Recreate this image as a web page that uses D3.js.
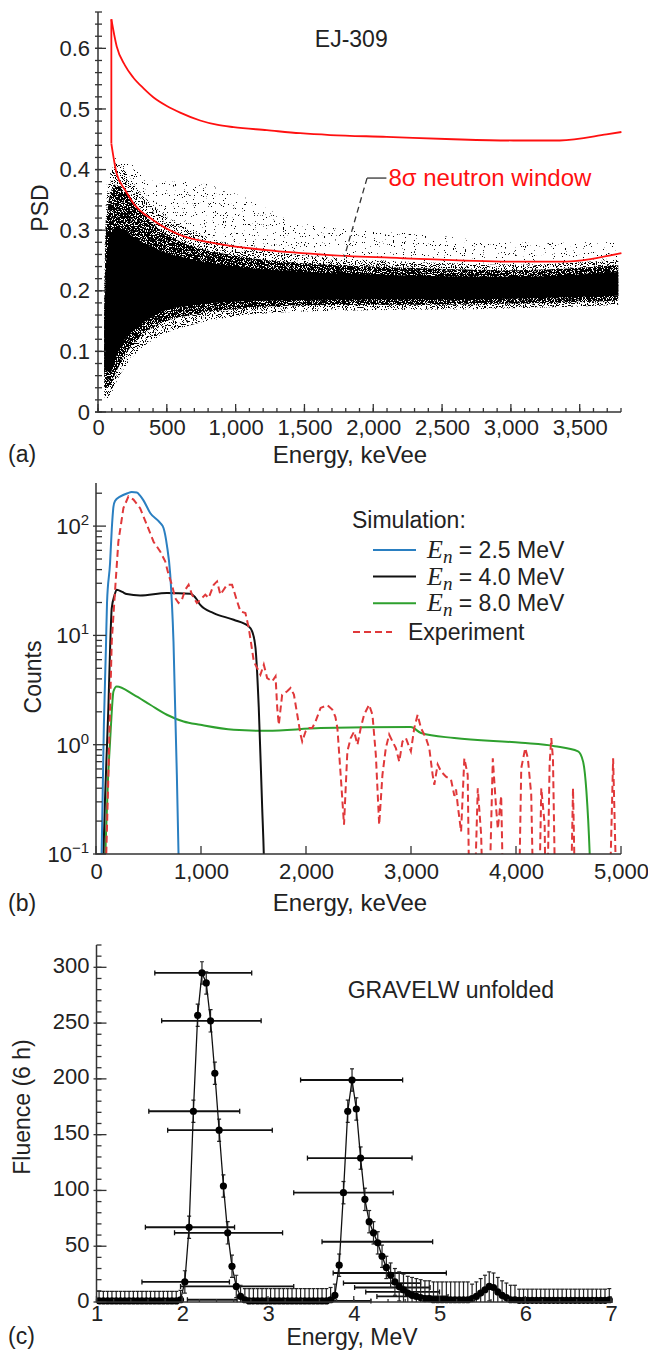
<!DOCTYPE html>
<html>
<head>
<meta charset="utf-8">
<script src="https://cdnjs.cloudflare.com/ajax/libs/d3/7.8.5/d3.min.js"></script>
<style>
body { margin: 0; background: #fff; }
text { font-family: "Liberation Sans", Arial, sans-serif; fill: #222; }
</style>
</head>
<body>
<div id="chart"></div>
<script>
// ---------- panel (a): PSD vs energy, EJ-309 ----------
// the point cloud is described by its envelopes
var psdEnergy = [45, 60, 90, 130, 190, 280, 430, 670, 1000, 1500, 2000, 2500, 3000, 3500, 3780];
var coreHi  = [0.12, 0.25, 0.29, 0.305, 0.30, 0.285, 0.268, 0.252, 0.24, 0.231, 0.227, 0.224, 0.223, 0.227, 0.231];
var coreLo  = [0.06, 0.07, 0.065, 0.09, 0.118, 0.138, 0.162, 0.176, 0.182, 0.185, 0.186, 0.186, 0.187, 0.19, 0.192];
var midHi   = [0.17, 0.31, 0.36, 0.375, 0.365, 0.34, 0.305, 0.275, 0.258, 0.245, 0.24, 0.236, 0.234, 0.238, 0.242];
var midLo   = [0.04, 0.04, 0.045, 0.065, 0.092, 0.118, 0.143, 0.16, 0.17, 0.176, 0.177, 0.177, 0.179, 0.181, 0.184];
var outerHi = [0.2, 0.34, 0.39, 0.41, 0.40, 0.37, 0.335, 0.30, 0.275, 0.258, 0.251, 0.246, 0.243, 0.247, 0.252];
var outerLo = [0.025, 0.022, 0.028, 0.048, 0.072, 0.098, 0.123, 0.143, 0.158, 0.166, 0.168, 0.169, 0.171, 0.174, 0.177];
var haloHi  = [0.22, 0.36, 0.41, 0.42, 0.42, 0.40, 0.38, 0.38, 0.36, 0.31, 0.30, 0.29, 0.28, 0.28, 0.28];

// 8 sigma neutron window
var winUpE = [97, 136, 196, 256, 331, 404, 500, 597, 742, 862, 985, 1227, 1469, 1687, 2097, 2582, 3018, 3355, 3694, 3803];
var winUpV = [0.648, 0.603, 0.572, 0.552, 0.534, 0.519, 0.505, 0.494, 0.481, 0.474, 0.470, 0.465, 0.460, 0.457, 0.454, 0.450, 0.448, 0.448, 0.458, 0.462];
var winLoE = [97, 136, 198, 258, 404, 597, 862, 1227, 1687, 2194, 3018, 3355, 3803];
var winLoV = [0.443, 0.393, 0.366, 0.344, 0.316, 0.292, 0.278, 0.267, 0.259, 0.254, 0.248, 0.248, 0.262];

var aXTicks = [0, 500, 1000, 1500, 2000, 2500, 3000, 3500];
var aYTicks = [0, 0.1, 0.2, 0.3, 0.4, 0.5, 0.6];

// ---------- panel (b): spectra ----------
var blueE = [48, 75, 95, 105, 134, 150, 166, 181, 229, 300, 340, 389, 420, 452, 516, 611, 643, 675, 707, 738, 770, 786, 800];
var blueC = [0.05, 1.5, 8, 20, 46, 93, 150, 170, 186, 200, 205, 203, 190, 172, 132, 107, 96, 67, 36, 8.8, 0.53, 0.1, 0.02];
var blackE = [62, 85, 105, 118, 135, 150, 175, 197, 250, 293, 420, 675, 898, 962, 993, 1120, 1311, 1455, 1487, 1519, 1550, 1583, 1598, 1610];
var blackC = [0.05, 0.3, 1.0, 2.2, 8, 17.8, 23, 26.2, 25, 23.9, 23.2, 24.4, 24, 21.2, 19, 16, 13.9, 12.1, 10.9, 7.7, 2.2, 0.26, 0.1, 0.03];
var greenE = [80, 95, 115, 134, 150, 166, 197, 357, 516, 675, 834, 993, 1311, 1630, 2139, 2999, 3095, 3413, 4050, 4368, 4591, 4639, 4671, 4702, 4720];
var greenC = [0.05, 0.15, 0.5, 1.07, 2.0, 3.07, 3.41, 2.87, 2.32, 1.88, 1.63, 1.52, 1.37, 1.34, 1.42, 1.45, 1.28, 1.15, 1.04, 0.97, 0.87, 0.7, 0.37, 0.1, 0.03];
var expE = [95, 118, 150, 181, 213, 261, 309, 357, 420, 484, 548, 611, 659, 691, 723, 754, 786, 818, 850, 882,
            914, 961, 993, 1041, 1073, 1121, 1153, 1184, 1248, 1296, 1344, 1375, 1423, 1455, 1503, 1535, 1566, 1598, 1630, 1678,
            1710, 1726, 1741, 1773, 1821, 1853, 1885, 1917, 1948, 1964, 1996, 2028, 2060, 2092, 2139, 2203, 2250, 2280, 2299, 2330,
            2362, 2394, 2426, 2458, 2490, 2521, 2553, 2601, 2633, 2665, 2697, 2728, 2760, 2792, 2824, 2856, 2888, 2919, 2951, 2999,
            3031, 3063, 3095, 3142, 3174, 3206, 3222, 3254, 3286, 3333, 3381, 3413, 3429, 3445, 3477, 3508, 3540, 3563, 3588, 3636,
            3668, 3700, 3731, 3779, 3811, 3827, 3859, 3890, 4018, 4050, 4088, 4113, 4145, 4177, 4209, 4241, 4273, 4288, 4320, 4336,
            4352, 4384, 4511, 4543, 4575, 4877, 4925, 4973];
var expC = [0.08, 0.53, 8.8, 25.3, 72, 146, 187, 175, 146, 103, 72, 58.7, 47.6, 36, 29.1, 22, 19.8, 21.2, 26.2, 29.1,
            23.6, 19.8, 21.2, 23.6, 22, 29.1, 31.2, 23.6, 29.1, 29.1, 20.5, 16.6, 16, 11.7, 5.78, 5.03, 4.37, 5.4, 4.07, 3.8,
            4.22, 2.17, 1.52, 2.87, 3.08, 3.3, 2.87, 1.88, 1.24, 1.07, 1.32, 1.42, 1.42, 1.64, 2.17, 2.3, 2.1, 1.8, 1.42, 0.53,
            0.185, 0.87, 1.15, 1.32, 1.0, 1.42, 1.88, 2.32, 1.88, 0.81, 0.185, 0.53, 0.93, 1.24, 1.07, 0.93, 0.7, 1.07, 1.15, 0.87,
            1.42, 1.88, 1.42, 1.15, 0.93, 0.53, 0.43, 0.66, 0.57, 0.51, 0.48, 0.34, 0.39, 0.28, 0.16, 0.75, 0.53, 0.01, 0.01, 0.4,
            0.15, 0.01, 0.01, 0.75, 0.26, 0.17, 0.34, 0.01, 0.01, 0.61, 0.93, 0.75, 0.35, 0.01, 0.01, 0.4, 0.185, 0.01, 0.66, 1.15,
            0.75, 0.01, 0.01, 0.4, 0.01, 0.01, 0.75, 0.01];

var bXTicks = [0, 1000, 2000, 3000, 4000, 5000];
var bYTicks = [0.1, 1, 10, 100];
var bYMinor = [0.2, 0.3, 0.4, 0.5, 0.6, 0.7, 0.8, 0.9, 2, 3, 4, 5, 6, 7, 8, 9, 20, 30, 40, 50, 60, 70, 80, 90, 200];
var legendNames = ["2.5", "4.0", "8.0"];
var legendColors = ["#2a7fc1", "#111111", "#2ea02e"];

// ---------- panel (c): GRAVELW unfolded fluence ----------
var unfEnergy = [1.03, 1.08, 1.13, 1.18, 1.23, 1.28, 1.33, 1.38, 1.43, 1.48, 1.53, 1.58, 1.63, 1.68, 1.73, 1.78, 1.83, 1.88, 1.93, 1.98,
                 2.03, 2.08, 2.13, 2.18, 2.23, 2.28, 2.33, 2.38, 2.43, 2.48, 2.53, 2.58, 2.63, 2.68, 2.73, 2.78, 2.83, 2.88, 2.93, 2.98,
                 3.03, 3.08, 3.13, 3.18, 3.23, 3.28, 3.33, 3.38, 3.43, 3.48, 3.53, 3.58, 3.63, 3.68, 3.73, 3.78, 3.83, 3.88, 3.93, 3.98,
                 4.03, 4.08, 4.13, 4.18, 4.23, 4.28, 4.33, 4.38, 4.43, 4.48, 4.53, 4.58, 4.63, 4.68, 4.73, 4.78, 4.83, 4.88, 4.93, 4.98,
                 5.03, 5.08, 5.13, 5.18, 5.23, 5.28, 5.33, 5.38, 5.43, 5.48, 5.53, 5.58, 5.63, 5.68, 5.73, 5.78, 5.83, 5.88, 5.93, 5.98,
                 6.03, 6.08, 6.13, 6.18, 6.23, 6.28, 6.33, 6.38, 6.43, 6.48, 6.53, 6.58, 6.63, 6.68, 6.73, 6.78, 6.83, 6.88, 6.93, 6.98];
var unfFluence = [1, 1, 1, 1, 1, 1, 1, 1, 1, 1, 1, 1, 1, 1, 1, 1, 1, 1, 1, 2,
                  18, 67, 171, 257, 295, 286, 252, 205, 154, 104, 62, 32, 14, 5, 2, 1, 1, 1, 1, 1,
                  1, 1, 1, 1, 1, 1, 1, 1, 1, 1, 1, 1, 1, 1, 2, 6, 33, 98, 171, 199,
                  173, 129, 92, 72, 62, 53, 41, 31, 24, 18, 14, 11, 8, 6, 5, 4, 3, 3, 2, 2,
                  2, 2, 2, 2, 2, 2, 2, 3, 5, 8, 11, 14, 13, 9, 6, 4, 2, 2, 1.5, 1.5,
                  1.5, 1.5, 1.5, 1.5, 1.5, 1.5, 1.5, 1.5, 1.5, 1.5, 1.5, 1.5, 1.5, 1.5, 1.5, 1.5, 1.5, 1.5, 1.5, 2];
var unfError = [8.5, 8.5, 8.5, 8.5, 8.5, 8.5, 8.5, 8.5, 8.5, 8.5, 8.5, 8.5, 8.5, 8.5, 8.5, 8.5, 8.5, 8.5, 8.5, 8.5,
                10, 10, 10, 10, 10, 10, 10, 10, 10, 10, 10, 10, 10, 10, 10, 11, 11, 11, 11, 11,
                11, 11, 11, 11, 11, 11, 11, 11, 11, 11, 11, 11, 11, 11, 11, 10, 10, 10, 10, 10,
                10, 10, 10, 10, 10, 10, 10, 10, 11, 12, 13, 14, 15, 16, 16, 16, 16, 16, 16, 16,
                16, 16, 16, 16, 16, 16, 16, 13, 13, 13, 13, 13, 13, 13, 13, 13, 13, 13, 10, 10,
                10, 10, 10, 10, 10, 10, 10, 10, 10, 10, 10, 10, 10, 10, 10, 10, 10, 10, 10, 10];
// horizontal (energy resolution) bars
var hbarLo = [1.68, 1.76, 1.61, 1.83, 1.57, 1.91, 1.53, 1.98, 2.06, 3.38, 3.46, 3.30, 3.63, 3.76, 3.88, 4.01, 4.14, 4.27, 3.70];
var hbarHi = [2.81, 2.92, 2.67, 3.05, 2.61, 3.17, 2.55, 3.30, 2.64, 4.57, 4.68, 4.46, 4.92, 5.08, 4.78, 4.89, 5.00, 5.10, 4.20];
var hbarFluence = [295, 252, 171, 154, 67, 62, 18, 14, 2, 199, 129, 98, 54, 26, 17, 13, 9, 5, 1];

var cXTicks = [1, 2, 3, 4, 5, 6, 7];
var cYTicks = [0, 50, 100, 150, 200, 250, 300];

// ---------------------------------------------------------------
var svg = d3.select("#chart").append("svg")
  .attr("width", 648)
  .attr("height", 1351);
var defs = svg.append("defs");

var ax = d3.scaleLinear().domain([0, 3800]).range([98, 621]);
var ay = d3.scaleLinear().domain([0, 0.66]).range([412, 12]);
var bx = d3.scaleLinear().domain([0, 5000]).range([96, 621]);
var by = d3.scaleLog().domain([0.1, 248]).range([854, 483]);
var cx = d3.scaleLinear().domain([1, 7]).range([96.5, 611]);
var cy = d3.scaleLinear().domain([0, 320]).range([1302, 945]);

function clip(id, x0, y0, x1, y1) {
  defs.append("clipPath").attr("id", id).append("rect")
    .attr("x", x0).attr("y", y0).attr("width", x1 - x0).attr("height", y1 - y0);
}
clip("clipA", 98, 0, 630, 412);
clip("clipB", 96, 470, 630, 854);
clip("clipC", 96.5, 930, 630, 1306);

// speckle filter: keeps a noisy fraction of the filled area so it reads as a point cloud
function speckle(id, thr, seed) {
  var f = defs.append("filter").attr("id", id)
    .attr("filterUnits", "userSpaceOnUse")
    .attr("x", 90).attr("y", 0).attr("width", 545).attr("height", 420)
    .attr("color-interpolation-filters", "sRGB");
  f.append("feTurbulence").attr("type", "fractalNoise").attr("baseFrequency", 0.9)
    .attr("numOctaves", 1).attr("seed", seed).attr("result", "noise");
  f.append("feColorMatrix").attr("in", "noise").attr("type", "matrix")
    .attr("values", "0 0 0 0 0  0 0 0 0 0  0 0 0 0 0  1 0 0 0 0").attr("result", "na");
  f.append("feComponentTransfer").attr("in", "na").attr("result", "mask")
    .append("feFuncA").attr("type", "linear").attr("slope", 40).attr("intercept", -40 * thr);
  f.append("feComposite").attr("in", "SourceGraphic").attr("in2", "mask").attr("operator", "in");
}
speckle("spkHalo", 0.68, 3);
speckle("spkOuter", 0.56, 5);
speckle("spkMid", 0.44, 7);

function tickLinesY(g, vals, scale, x0, a, b) {
  g.append("g").selectAll("line").data(vals).enter().append("line")
    .attr("x1", x0 + a).attr("x2", x0 + b)
    .attr("y1", function(d) { return scale(d); })
    .attr("y2", function(d) { return scale(d); })
    .style("stroke", "#333").style("stroke-width", 1.3);
}
function tickLinesX(g, vals, scale, y0, a, b) {
  g.append("g").selectAll("line").data(vals).enter().append("line")
    .attr("y1", y0 - a).attr("y2", y0 - b)
    .attr("x1", function(d) { return scale(d); })
    .attr("x2", function(d) { return scale(d); })
    .style("stroke", "#333").style("stroke-width", 1.3);
}
function frame(g, x0, yTop, x1, y0) {
  g.append("path")
    .attr("d", "M" + x0 + "," + yTop + "V" + y0 + "H" + x1)
    .style("fill", "none").style("stroke", "#333").style("stroke-width", 1.5);
}
function labelAxis(g, axis, tx, ty) {
  var s = g.append("g").attr("transform", "translate(" + tx + "," + ty + ")").call(axis);
  s.select(".domain").remove();
  s.selectAll("text").attr("font-size", 22).attr("font-family", "Liberation Sans, Arial, sans-serif").style("fill", "#222");
  return s;
}
function textAt(x, y, str, size, anchor) {
  return svg.append("text").attr("x", x).attr("y", y).attr("font-size", size)
    .attr("text-anchor", anchor || "start").text(str);
}

// ================= panel (a) =================
var ga = svg.append("g");
var cloud = ga.append("g").attr("clip-path", "url(#clipA)");
function band(hi, lo) {
  return d3.area()
    .x(function(d, i) { return ax(psdEnergy[i]); })
    .y0(function(d, i) { return ay(lo[i]); })
    .y1(function(d, i) { return ay(hi[i]); })
    .curve(d3.curveMonotoneX)(psdEnergy);
}
cloud.append("path").attr("d", band(haloHi, outerHi)).style("fill", "#000").attr("filter", "url(#spkHalo)");
cloud.append("path").attr("d", band(outerHi, outerLo)).style("fill", "#000").attr("filter", "url(#spkOuter)");
cloud.append("path").attr("d", band(midHi, midLo)).style("fill", "#000").attr("filter", "url(#spkMid)");
cloud.append("path").attr("d", band(coreHi, coreLo)).style("fill", "#000");

var winLine = d3.line()
  .x(function(d) { return ax(d[0]); })
  .y(function(d) { return ay(d[1]); })
  .curve(d3.curveMonotoneX);
var winUp = winUpE.map(function(e, i) { return [e, winUpV[i]]; });
var winLo = winLoE.map(function(e, i) { return [e, winLoV[i]]; });
ga.append("path").attr("d", winLine(winUp)).style("fill", "none").style("stroke", "#ff1010").style("stroke-width", 1.8);
ga.append("path").attr("d", winLine(winLo)).style("fill", "none").style("stroke", "#ff1010").style("stroke-width", 1.8);
ga.append("line")
  .attr("x1", ax(winUpE[0])).attr("x2", ax(winLoE[0]))
  .attr("y1", ay(winUpV[0])).attr("y2", ay(winLoV[0]))
  .style("stroke", "#ff1010").style("stroke-width", 1.8);

frame(ga, 98, 12, 621, 412);
tickLinesY(ga, d3.range(0, 0.661, 0.02), ay, 98, -3, 4);
tickLinesY(ga, aYTicks, ay, 98, -3, 8);
tickLinesX(ga, d3.range(0, 3801, 100), ax, 412, 0, 4);
tickLinesX(ga, aXTicks, ax, 412, 0, 8);
labelAxis(ga, d3.axisLeft(ay).tickValues(aYTicks).tickSize(0).tickPadding(8)
  .tickFormat(function(d) { return d === 0 ? "0" : d3.format(".1f")(d); }), 98, 0);
labelAxis(ga, d3.axisBottom(ax).tickValues(aXTicks).tickSize(0).tickPadding(7)
  .tickFormat(d3.format(",")), 0, 412);

// annotation
var noteX = ax(2110), noteY = ay(0.386);
ga.append("path")
  .attr("d", "M" + (noteX - 2) + "," + noteY + "H" + ax(1955))
  .style("stroke", "#333").style("stroke-width", 1.3).style("fill", "none");
ga.append("path")
  .attr("d", "M" + ax(1955) + "," + noteY + "L" + ax(1790) + "," + ay(0.256))
  .style("stroke", "#333").style("stroke-width", 1.3).style("stroke-dasharray", "6,4").style("fill", "none");
textAt(noteX, noteY + 8, "8σ neutron window", 24).style("fill", "#ff1010");
textAt(ax(1840), ay(0.616) + 8, "EJ-309", 23, "middle");

textAt(350, 463, "Energy, keVee", 24, "middle");
textAt(8, 462, "(a)", 23);
svg.append("text").attr("transform", "translate(48,208) rotate(-90)")
  .attr("font-size", 23).attr("text-anchor", "middle").text("PSD");

// ================= panel (b) =================
var gb = svg.append("g");
var curves = gb.append("g").attr("clip-path", "url(#clipB)");
var specLine = d3.line()
  .x(function(d) { return bx(d[0]); })
  .y(function(d) { return by(d[1]); })
  .curve(d3.curveMonotoneX);
function pairs(e, c) { return e.map(function(v, i) { return [v, c[i]]; }); }

curves.append("path").attr("d", specLine(pairs(greenE, greenC)))
  .style("fill", "none").style("stroke", legendColors[2]).style("stroke-width", 2);
curves.append("path").attr("d", specLine(pairs(blackE, blackC)))
  .style("fill", "none").style("stroke", legendColors[1]).style("stroke-width", 2);
curves.append("path").attr("d", specLine(pairs(blueE, blueC)))
  .style("fill", "none").style("stroke", legendColors[0]).style("stroke-width", 2);
curves.append("path").attr("d", d3.line()
    .x(function(d) { return bx(d[0]); })
    .y(function(d) { return by(d[1]); })(pairs(expE, expC)))
  .style("fill", "none").style("stroke", "#e0383a").style("stroke-width", 2)
  .style("stroke-dasharray", "7,4");

frame(gb, 96, 483, 621, 854);
tickLinesY(gb, bYMinor, by, 96, 0, 6);
tickLinesY(gb, bYTicks, by, 96, -3, 10);
tickLinesX(gb, bXTicks, bx, 854, 0, 8);
labelAxis(gb, d3.axisBottom(bx).tickValues(bXTicks).tickSize(0).tickPadding(9)
  .tickFormat(d3.format(",")), 0, 854);

bYTicks.forEach(function(v) {
  var t = svg.append("text").attr("x", 89).attr("y", by(v) + 8)
    .attr("font-size", 22).attr("text-anchor", "end");
  t.append("tspan").text("10");
  t.append("tspan").attr("dy", -9).attr("font-size", 15)
    .text(String(Math.round(Math.log10(v))).replace("-", "\u2212"));
});

// legend
textAt(352, 528, "Simulation:", 23);
legendNames.forEach(function(n, i) {
  var yy = 550 + i * 26.6;
  gb.append("line").attr("x1", 373).attr("x2", 416).attr("y1", yy).attr("y2", yy)
    .style("stroke", legendColors[i]).style("stroke-width", 2);
  var t = svg.append("text").attr("x", 427).attr("y", yy + 8).attr("font-size", 23);
  t.append("tspan").attr("font-family", "Liberation Serif, serif").attr("font-style", "italic")
    .attr("font-size", 26).text("E");
  t.append("tspan").attr("font-family", "Liberation Serif, serif").attr("font-style", "italic")
    .attr("font-size", 19).attr("dy", 5).text("n");
  t.append("tspan").attr("dy", -5).text(" = " + n + " MeV");
});
gb.append("line").attr("x1", 353).attr("x2", 392).attr("y1", 632).attr("y2", 632)
  .style("stroke", "#e0383a").style("stroke-width", 2).style("stroke-dasharray", "7,4");
textAt(408, 640, "Experiment", 23);

textAt(350, 911, "Energy, keVee", 24, "middle");
textAt(8, 911, "(b)", 23);
svg.append("text").attr("transform", "translate(41,677) rotate(-90)")
  .attr("font-size", 23).attr("text-anchor", "middle").text("Counts");

// ================= panel (c) =================
var gc = svg.append("g");
var pts = unfEnergy.map(function(e, i) { return {e: e, v: unfFluence[i], s: unfError[i]}; });
var plot = gc.append("g").attr("clip-path", "url(#clipC)");

// horizontal bars
hbarLo.forEach(function(lo, i) {
  var yy = cy(hbarFluence[i]);
  plot.append("line").attr("x1", cx(lo)).attr("x2", cx(hbarHi[i])).attr("y1", yy).attr("y2", yy)
    .style("stroke", "#111").style("stroke-width", 1.8);
  [lo, hbarHi[i]].forEach(function(e) {
    plot.append("line").attr("x1", cx(e)).attr("x2", cx(e)).attr("y1", yy - 2.5).attr("y2", yy + 2.5)
      .style("stroke", "#111").style("stroke-width", 1.3);
  });
});

// vertical error bars
var eb = plot.append("g").selectAll("g").data(pts).enter().append("g");
eb.append("line")
  .attr("x1", function(d) { return cx(d.e); }).attr("x2", function(d) { return cx(d.e); })
  .attr("y1", function(d) { return cy(Math.max(0, d.v - d.s)); })
  .attr("y2", function(d) { return cy(d.v + d.s); })
  .style("stroke", "#222").style("stroke-width", 1.2);
eb.append("line")
  .attr("x1", function(d) { return cx(d.e) - 2; }).attr("x2", function(d) { return cx(d.e) + 2; })
  .attr("y1", function(d) { return cy(d.v + d.s); }).attr("y2", function(d) { return cy(d.v + d.s); })
  .style("stroke", "#222").style("stroke-width", 1.2);
eb.filter(function(d) { return d.v - d.s > 0; }).append("line")
  .attr("x1", function(d) { return cx(d.e) - 2; }).attr("x2", function(d) { return cx(d.e) + 2; })
  .attr("y1", function(d) { return cy(d.v - d.s); }).attr("y2", function(d) { return cy(d.v - d.s); })
  .style("stroke", "#222").style("stroke-width", 1.2);

plot.append("path")
  .attr("d", d3.line().x(function(d) { return cx(d.e); }).y(function(d) { return cy(d.v); })(pts))
  .style("fill", "none").style("stroke", "#111").style("stroke-width", 1.3);
plot.append("g").selectAll("circle").data(pts).enter().append("circle")
  .attr("cx", function(d) { return cx(d.e); })
  .attr("cy", function(d) { return cy(d.v); })
  .attr("r", 3.6)
  .style("fill", "#000");

frame(gc, 96.5, 945, 613, 1302);
tickLinesY(gc, d3.range(0, 321, 10), cy, 96.5, 0, 5);
tickLinesY(gc, cYTicks, cy, 96.5, -3, 10);
tickLinesX(gc, d3.range(1, 7.01, 0.2), cx, 1302, 0, 3);
tickLinesX(gc, cXTicks, cx, 1302, 0, 6);
labelAxis(gc, d3.axisLeft(cy).tickValues(cYTicks).tickSize(0).tickPadding(7), 96.5, -2);
labelAxis(gc, d3.axisBottom(cx).tickValues(cXTicks).tickSize(0).tickPadding(3)
  .tickFormat(d3.format("d")), 0, 1302);

textAt(cx(3.93), cy(280) + 8, "GRAVELW unfolded", 23);
textAt(352, 1345, "Energy, MeV", 23, "middle");
textAt(8, 1344, "(c)", 23);
svg.append("text").attr("transform", "translate(30,1107) rotate(-90)")
  .attr("font-size", 23).attr("text-anchor", "middle").text("Fluence (6 h)");
</script>
</body>
</html>
